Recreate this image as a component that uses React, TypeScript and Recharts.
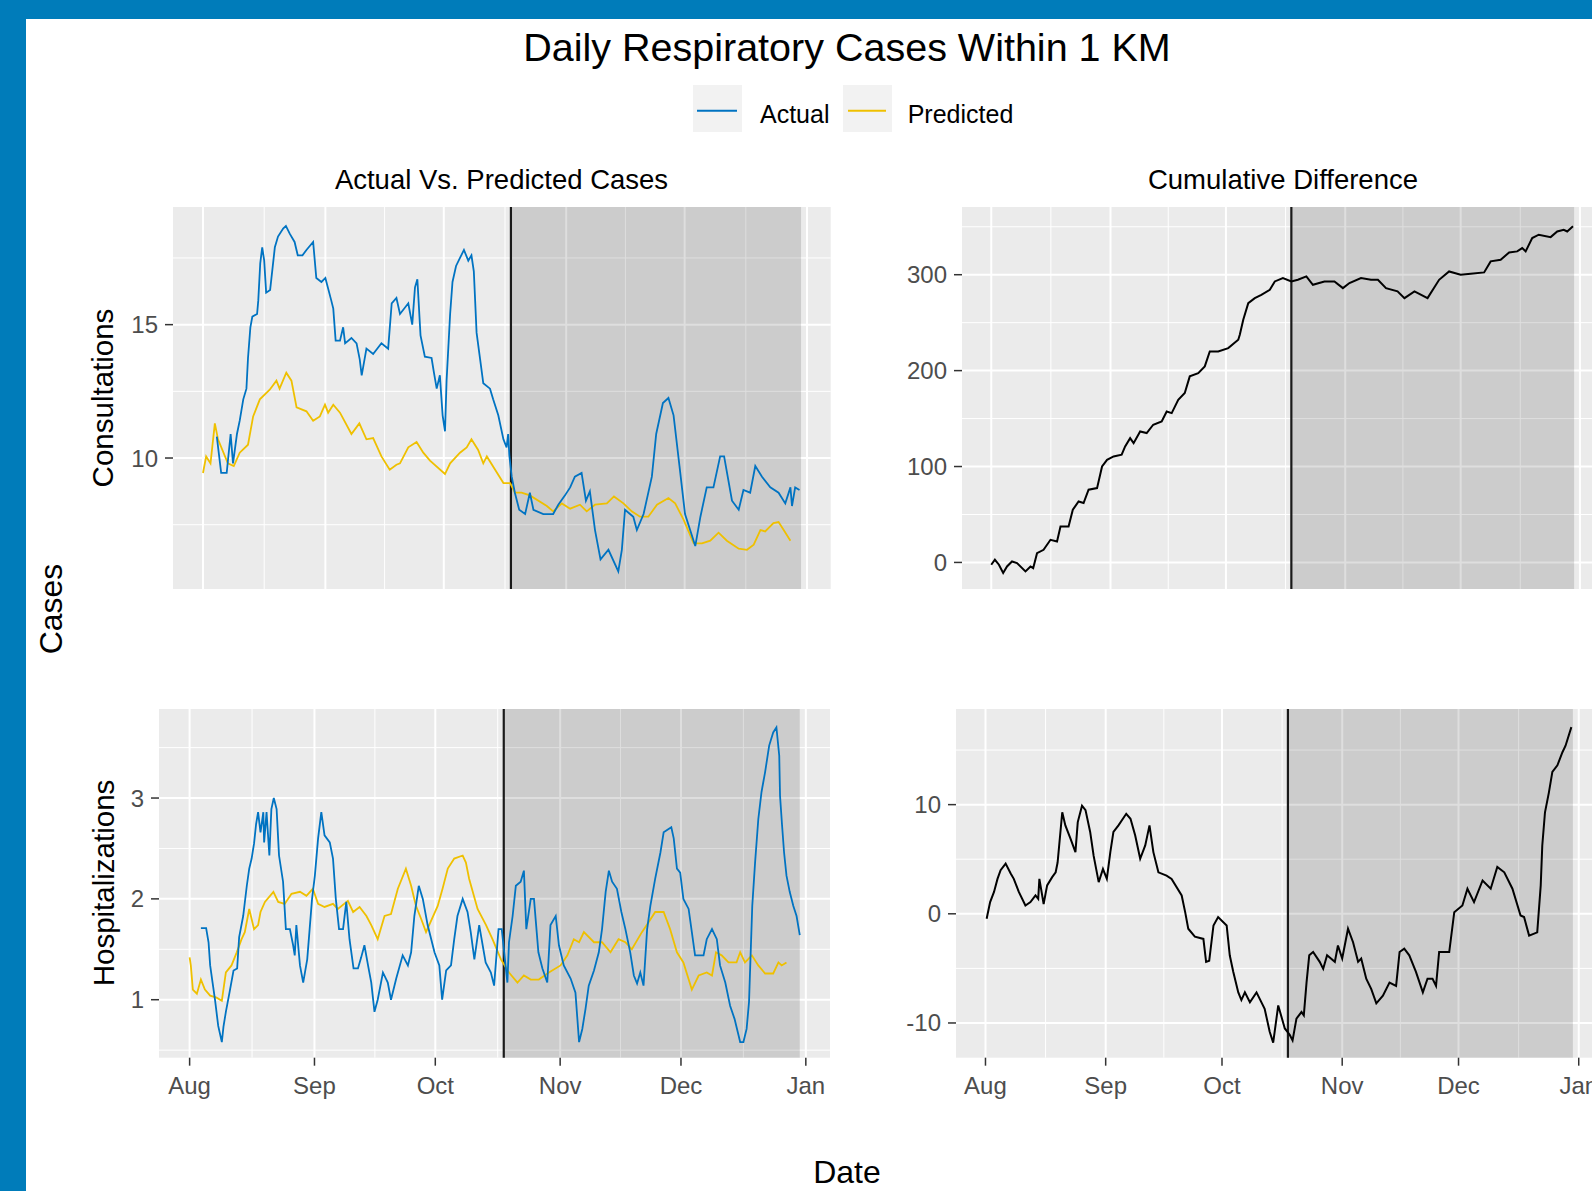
import React from 'react';
import { LineChart, Line, XAxis, YAxis, CartesianGrid, ReferenceLine, ReferenceArea } from 'recharts';

// x values are days counted from 1 Aug
const monthTicks = [0, 31, 61, 92, 122, 153];
const monthLabels = ['Aug', 'Sep', 'Oct', 'Nov', 'Dec', 'Jan'];
const minorDays = [15.5, 46, 76.5, 107, 137.5];
const splitDay = 78;
const lastDay = 151.5;

const consultTicks = [10, 15];
const consultMinor = [7.5, 12.5, 17.5];
const hospTicks = [1, 2, 3];
const hospMinor = [0.5, 1.5, 2.5, 3.5];
const cumConsultTicks = [0, 100, 200, 300];
const cumConsultMinor = [50, 150, 250, 350];
const cumHospTicks = [-10, 0, 10];
const cumHospMinor = [-5, 5, 15];

const consultActual: [number, number][] = [
  [3.5, 10.8], [4.6, 9.44], [6, 9.44], [7, 10.9], [7.6, 9.8], [8.6, 10.9], [9.3, 11.4], [10.2, 12.2],
  [11, 12.6], [11.4, 13.75], [12, 14.9], [12.5, 15.3], [13.7, 15.4], [14, 15.9], [14.5, 17.3], [15, 17.9],
  [15.5, 17.4], [16, 16.2], [17, 16.3], [17.3, 16.7], [18.2, 17.9], [19, 18.3], [20.3, 18.6], [21, 18.7],
  [22, 18.4], [23.2, 18.1], [24, 17.6], [25.2, 17.6], [26.2, 17.8], [27.9, 18.1], [28.7, 16.75], [30, 16.6],
  [31, 16.75], [32.5, 15.9], [33, 15.6], [33.6, 14.4], [34.7, 14.4], [35.5, 14.9], [36, 14.3], [37.6, 14.5],
  [38.9, 14.3], [39.7, 13.7], [40.2, 13.1], [41.4, 14.1], [43.1, 13.9], [45.2, 14.3], [46.9, 14.1], [47.8, 15.8],
  [49, 16], [49.9, 15.4], [52, 15.8], [53, 15], [53.7, 16.4], [54.3, 16.7], [55.1, 14.6], [56.2, 13.8],
  [57.9, 13.75], [58.5, 13.2], [59.2, 12.6], [60, 13.1], [60.7, 11.6], [61.3, 11.0], [61.7, 12.9], [62.6, 15.4],
  [63.2, 16.6], [64.1, 17.2], [65.1, 17.5], [66.1, 17.8], [67.2, 17.4], [68, 17.6], [68.6, 17], [69.3, 14.7],
  [70.2, 13.7], [71, 12.8], [72.7, 12.6], [73.5, 12.2], [74.8, 11.6], [76.1, 10.7], [76.9, 10.4], [77.3, 10.9],
  [77.6, 10.1], [78.2, 9.3], [79, 8.7], [80.1, 8.06], [81.6, 7.9], [82.8, 8.7], [83.7, 8.06], [86.2, 7.9],
  [88.7, 7.9], [90, 8.25], [91.7, 8.6], [93, 8.9], [94.2, 9.3], [95.9, 9.44], [97, 8.4], [98, 8.75],
  [99.3, 7.3], [100.7, 6.2], [102.7, 6.56], [105.2, 5.75], [106.1, 6.56], [106.9, 8.06], [109, 7.8], [109.9, 7.3],
  [111.6, 7.9], [113.7, 9.3], [114.8, 10.9], [116.5, 12.06], [117.9, 12.25], [119.2, 11.6], [120.7, 9.7], [122.1, 7.9],
  [124.7, 6.7], [126, 7.8], [127.6, 8.9], [129.3, 8.9], [131, 10.06], [132, 10.06], [134, 8.4], [135.7, 8.06],
  [136.9, 8.8], [138.6, 8.7], [139.9, 9.7], [141.6, 9.3], [143.7, 8.9], [145.8, 8.7], [147.5, 8.3], [148.8, 8.9],
  [149.2, 8.2], [150, 8.9], [151.1, 8.8],
];

const consultPredicted: [number, number][] = [
  [0, 9.44], [0.8, 10.06], [1.9, 9.8], [3, 11.3], [3.8, 10.7], [6.3, 9.8], [7.8, 9.7], [9.3, 10.2],
  [11.4, 10.5], [12.7, 11.56], [14.4, 12.2], [16.9, 12.56], [18.6, 12.9], [19.4, 12.6], [21.1, 13.2], [22.4, 12.9],
  [23.7, 11.9], [26.2, 11.75], [27.9, 11.4], [29.6, 11.56], [30.9, 12.0], [31.7, 11.7], [33, 12.0], [34.7, 11.7],
  [37.6, 10.9], [39.6, 11.3], [41.4, 10.7], [43.1, 10.75], [45.2, 10.06], [47.3, 9.56], [49, 9.75], [49.9, 9.8],
  [52, 10.4], [54.1, 10.6], [55.8, 10.2], [57.5, 9.9], [61.3, 9.4], [62.6, 9.8], [65.1, 10.2], [66.8, 10.4],
  [68, 10.7], [69.7, 10.3], [71, 9.8], [71.9, 10.06], [74, 9.56], [76.1, 9.06], [77.8, 9.06], [79, 8.7],
  [80.7, 8.7], [82.8, 8.6], [87.1, 8.2], [88.7, 8.0], [90.9, 8.3], [93, 8.1], [95.5, 8.25], [97.2, 8.0],
  [99.3, 8.25], [102.3, 8.3], [104.1, 8.56], [106.5, 8.3], [108.6, 8.0], [110.7, 7.8], [112.8, 7.8], [115, 8.25],
  [117.9, 8.5], [119.6, 8.3], [121.7, 7.7], [124.3, 6.8], [126.4, 6.8], [128.5, 6.9], [130.6, 7.2], [132.7, 6.9],
  [135.7, 6.6], [137.8, 6.56], [139.5, 6.75], [141.2, 7.3], [142.4, 7.25], [144.5, 7.56], [145.8, 7.6], [147.1, 7.3],
  [148.8, 6.9],
];

const hospActual: [number, number][] = [
  [2.8, 1.71], [4.1, 1.71], [4.7, 1.57], [5.1, 1.34], [5.7, 1.17], [6.3, 1.0], [7.1, 0.74], [8, 0.58],
  [8.4, 0.73], [9, 0.88], [9.9, 1.07], [10.9, 1.29], [11.8, 1.31], [12.3, 1.62], [13.3, 1.83], [14.2, 2.13],
  [14.8, 2.3], [15.4, 2.4], [16, 2.55], [16.5, 2.74], [17, 2.86], [17.6, 2.66], [18.3, 2.86], [18.5, 2.56],
  [19.1, 2.86], [19.8, 2.43], [20.3, 2.89], [20.9, 3.0], [21.6, 2.89], [22.2, 2.43], [23.2, 2.17], [23.9, 1.7],
  [24.9, 1.7], [25.7, 1.54], [26.1, 1.44], [26.5, 1.74], [27.4, 1.34], [28.2, 1.17], [29.2, 1.4], [29.8, 1.7],
  [30.4, 2.0], [31.1, 2.23], [31.9, 2.6], [32.7, 2.86], [33.5, 2.63], [34.8, 2.56], [35.6, 2.4], [36.3, 2.0],
  [37.1, 1.7], [38.1, 1.7], [38.9, 1.97], [39.7, 1.6], [40.7, 1.31], [41.8, 1.31], [42.6, 1.42], [43.4, 1.54],
  [44.3, 1.34], [45.1, 1.17], [45.9, 0.88], [46.7, 1.0], [48, 1.27], [49.2, 1.17], [50, 1.0], [51.3, 1.21],
  [52.9, 1.44], [54.2, 1.34], [55, 1.47], [55.8, 1.83], [56.9, 2.13], [57.9, 2.0], [59.1, 1.74], [60.8, 1.47],
  [62, 1.34], [62.7, 1.0], [63.7, 1.29], [64.9, 1.34], [65.7, 1.6], [66.5, 1.83], [67.8, 2.0], [69, 1.87],
  [69.8, 1.67], [70.7, 1.4], [71.9, 1.74], [73.5, 1.37], [74.8, 1.27], [75.6, 1.14], [76.7, 1.7], [77.5, 1.7],
  [78.9, 1.17], [79.3, 1.57], [80.2, 1.83], [81, 2.13], [82.2, 2.17], [83, 2.28], [83.6, 1.7], [84.7, 2.0],
  [85.5, 2.0], [86.6, 1.47], [87.6, 1.31], [88.8, 1.17], [89.6, 1.74], [90.9, 1.83], [91.7, 1.54], [92.9, 1.34],
  [94.6, 1.21], [95.8, 1.07], [96.7, 0.58], [97.5, 0.71], [98.3, 0.91], [99.1, 1.14], [100.4, 1.29], [101.6, 1.47],
  [102.4, 1.7], [103.3, 2.07], [104.1, 2.28], [104.9, 2.17], [106.1, 2.1], [107.2, 1.87], [108.2, 1.7], [109.4, 1.47],
  [110.3, 1.24], [111.1, 1.16], [111.9, 1.27], [112.7, 1.14], [113.6, 1.7], [114.4, 1.93], [115.6, 2.2], [116.9, 2.46],
  [117.7, 2.66], [119.6, 2.71], [120.2, 2.6], [121, 2.3], [121.8, 2.26], [122.6, 2.0], [123.9, 1.9], [124.7, 1.67],
  [125.5, 1.44], [127.6, 1.44], [128.4, 1.6], [129.7, 1.7], [130.9, 1.6], [131.7, 1.34], [133, 1.17], [134.2, 0.94],
  [135.3, 0.81], [136.7, 0.58], [137.5, 0.58], [138.3, 0.71], [138.9, 0.98], [139.7, 1.93], [140.4, 2.36], [141.2, 2.79],
  [142, 3.06], [142.9, 3.26], [143.9, 3.52], [144.9, 3.65], [145.7, 3.7], [146.4, 3.42], [146.6, 3.02], [147.1, 2.73],
  [147.6, 2.46], [148.2, 2.23], [149, 2.07], [149.9, 1.93], [150.7, 1.83], [151.5, 1.64],
];

const hospPredicted: [number, number][] = [
  [0, 1.42], [0.3, 1.34], [0.8, 1.1], [1.8, 1.06], [2.8, 1.2], [3.8, 1.1], [5.1, 1.04], [6.7, 1.02],
  [8, 0.99], [9, 1.27], [10.4, 1.34], [11.7, 1.47], [12.9, 1.6], [13.7, 1.67], [14.8, 1.9], [16, 1.7],
  [17, 1.74], [17.6, 1.87], [18.7, 1.97], [20.8, 2.07], [22, 1.97], [23.6, 1.95], [25.3, 2.05], [27.4, 2.07],
  [29, 2.03], [30.6, 2.1], [31.9, 1.95], [33.5, 1.92], [35.6, 1.95], [36.8, 1.9], [39.3, 1.98], [40.6, 1.87],
  [42.2, 1.92], [43.9, 1.83], [45.1, 1.74], [46.7, 1.6], [48.4, 1.83], [50, 1.85], [51.7, 2.1], [53.7, 2.3],
  [55, 2.13], [56.2, 1.93], [57.5, 1.8], [58.7, 1.67], [61.6, 1.93], [62.8, 2.1], [64.1, 2.3], [65.7, 2.4],
  [67.8, 2.43], [68.6, 2.36], [69.4, 2.2], [71.5, 1.9], [73.6, 1.74], [75.2, 1.6], [77.3, 1.4], [79.3, 1.27],
  [81.4, 1.17], [83, 1.24], [84.7, 1.2], [86.7, 1.2], [89.2, 1.27], [92.1, 1.34], [93.8, 1.44], [95.4, 1.6],
  [96.7, 1.57], [97.9, 1.67], [100.4, 1.57], [102.4, 1.57], [104.5, 1.47], [106.5, 1.6], [108.2, 1.57], [109.8, 1.5],
  [112.3, 1.67], [114, 1.77], [115.6, 1.87], [117.7, 1.87], [119.3, 1.7], [121, 1.47], [122.6, 1.37], [124.7, 1.1],
  [126.4, 1.24], [128.4, 1.27], [129.7, 1.24], [130.7, 1.47], [132.1, 1.44], [133.8, 1.37], [135.8, 1.37], [136.7, 1.47],
  [137.9, 1.37], [139.6, 1.44], [141.2, 1.34], [142.9, 1.26], [144.9, 1.26], [146.2, 1.37], [147, 1.34], [148.2, 1.37],
];

const consultCumDiff: [number, number][] = [
  [0, -2.4], [0.95, 2.8], [2, -2.4], [3.1, -11], [4.1, -4.2], [5.4, 1], [6.7, -0.7], [8.9, -9.4],
  [10.2, -4.2], [10.9, -6], [11.9, 9.7], [13.6, 13.2], [15.4, 23.6], [17.1, 21.9], [18, 37.5], [20.1, 37.5],
  [21.2, 54.9], [22.7, 63.6], [24, 61.9], [25.3, 75.8], [27.5, 77.5], [28.8, 100], [30.1, 107], [31.8, 110.5],
  [33.9, 112.3], [34.8, 121], [36.1, 129.6], [37, 124.4], [38.7, 136.6], [40.4, 134.9], [42.1, 143.6], [44.3, 147],
  [45.6, 157.4], [46.9, 155.7], [48.6, 169.6], [50.3, 176.6], [51.6, 194], [53.8, 197.4], [55.5, 204.4], [56.8, 220],
  [59, 220], [61.6, 223.5], [64.2, 232.2], [64.6, 237.4], [65.5, 253], [66.8, 270.4], [68.5, 275.6], [70.2, 279],
  [72.4, 284.3], [73.7, 293], [75.8, 296.5], [78, 293], [79.7, 294.7], [81.9, 298.2], [83.6, 289.5], [86.6, 293],
  [89.2, 293], [91.4, 286], [93.1, 291.3], [96.1, 296.5], [98.7, 294.7], [100.5, 294.7], [102.6, 286], [105.6, 282.6],
  [107.4, 275.6], [110, 282.6], [113.4, 275.6], [116.4, 294.7], [119, 303.4], [122, 300], [124.6, 301], [128.1, 302.4],
  [129.8, 313.9], [132.4, 315.6], [134.6, 323.2], [136.7, 324.3], [138, 327.8], [138.9, 324.3], [140.6, 338.2], [142.3, 341.7],
  [145.4, 339.2], [147.1, 345.1], [148.8, 346.9], [149.7, 345.1], [151.2, 350.4],
];

const hospCumDiff: [number, number][] = [
  [0.3, -0.46], [1.2, 1.07], [2.2, 2], [3.1, 3.2], [3.9, 4.0], [5.2, 4.6], [6.5, 3.7], [7.3, 3.2],
  [8.6, 2], [10.3, 0.76], [11.6, 1.07], [12.9, 1.68], [13.6, 1.37], [13.9, 3.2], [15, 0.9], [15.9, 2.6],
  [17.2, 3.36], [18.1, 3.8], [18.6, 4.7], [19.8, 9.3], [20.6, 8.1], [21.9, 6.9], [23.2, 5.65], [23.8, 8.4],
  [24.9, 9.9], [25.8, 9.5], [27, 7.5], [27.9, 5.3], [29.2, 2.9], [30.3, 4.1], [31.3, 3.2], [32.2, 5.65],
  [33, 7.5], [34.3, 8.1], [36.3, 9.16], [37.4, 8.7], [38.6, 7.2], [39.9, 5.04], [41.2, 6.26], [42.3, 8.1],
  [43.3, 5.65], [44.6, 3.8], [46.7, 3.5], [48, 3.2], [50.6, 1.68], [51.5, 0.15], [52.3, -1.37], [54, -2.1],
  [56.2, -2.3], [56.9, -4.4], [57.7, -4.3], [58.8, -1.07], [60, -0.3], [62.2, -1.07], [63, -3.8], [63.9, -5.3],
  [65.2, -7.2], [66, -7.9], [66.9, -7.2], [68.2, -8.1], [69.9, -7.2], [72, -8.7], [73.3, -10.8], [74.2, -11.8],
  [75.5, -8.4], [77.2, -10.5], [78.5, -11.1], [79.2, -11.6], [80.2, -9.6], [81.5, -9], [82.1, -9.3], [82.8, -6.3],
  [83.5, -3.8], [84.5, -3.5], [86.2, -4.4], [87.1, -5.04], [88.1, -3.8], [90.1, -4.4], [90.9, -2.9], [92, -4.1],
  [93.5, -1.37], [94.8, -2.6], [96.1, -4.4], [96.9, -4.1], [98.2, -5.95], [99.5, -6.9], [100.8, -8.2], [102.5, -7.5],
  [104.2, -6.3], [105.9, -6.6], [106.8, -3.5], [108, -3.2], [109.3, -3.8], [111, -5.3], [112.8, -7.2], [114, -5.95],
  [115.3, -5.95], [116.2, -6.6], [117, -3.5], [119.6, -3.5], [120.9, 0.15], [123, 0.76], [124.3, 2.3], [126, 1.07],
  [128.2, 3.05], [130.3, 2.3], [132, 4.3], [133.8, 3.8], [135.9, 2.3], [138, -0.15], [138.9, -0.3], [140.2, -2],
  [142.3, -1.7], [143.2, 2.6], [143.6, 6.26], [144.3, 9.3], [145.3, 11.1], [146.2, 13], [147.5, 13.6], [148.8, 14.8],
  [149.6, 15.4], [151.1, 17.1],
];

const ACTUAL = '#0073C2';
const PREDICTED = '#EFC000';
const FONT = '"Liberation Sans", Arial, sans-serif';
const X_DOMAIN: [number, number] = [-7.6, 159];

const toRows = (pts: [number, number][]) => pts.map(([day, value]) => ({ day, value }));

type Series = { name: string; points: [number, number][]; color: string; width: number };

interface PanelProps {
  left: number;
  top: number;
  plotWidth: number;
  plotHeight: number;
  axisWidth: number;
  yDomain: [number, number];
  yTicks: number[];
  yMinor: number[];
  series: Series[];
  showDates?: boolean;
}

function Panel({ left, top, plotWidth, plotHeight, axisWidth, yDomain, yTicks, yMinor, series, showDates }: PanelProps) {
  const axisHeight = showDates ? 60 : 0;
  return (
    <div style={{ position: 'absolute', left, top }}>
      <LineChart
        width={axisWidth + plotWidth}
        height={plotHeight + axisHeight}
        margin={{ top: 0, right: 0, bottom: 0, left: 0 }}
      >
        <CartesianGrid fill="#EBEBEB" stroke="none" />
        {minorDays.map(d => (
          <ReferenceLine key={`mx${d}`} x={d} stroke="#FFFFFF" strokeWidth={1} zIndex={-90} />
        ))}
        {yMinor.map(v => (
          <ReferenceLine key={`my${v}`} y={v} stroke="#FFFFFF" strokeWidth={1} zIndex={-90} />
        ))}
        {monthTicks.map(d => (
          <ReferenceLine key={`jx${d}`} x={d} stroke="#FFFFFF" strokeWidth={2} zIndex={-89} />
        ))}
        {yTicks.map(v => (
          <ReferenceLine key={`jy${v}`} y={v} stroke="#FFFFFF" strokeWidth={2} zIndex={-89} />
        ))}
        <ReferenceArea x1={splitDay} x2={lastDay} fill="#000000" fillOpacity={0.13} stroke="none" zIndex={-80} />
        <ReferenceLine x={splitDay} stroke="#1A1A1A" strokeWidth={2.2} zIndex={-70} />
        <XAxis
          type="number"
          dataKey="day"
          domain={X_DOMAIN}
          allowDataOverflow
          ticks={monthTicks}
          interval={0}
          tickFormatter={(v: number) => monthLabels[monthTicks.indexOf(v)] ?? ''}
          hide={!showDates}
          height={axisHeight}
          axisLine={false}
          tickSize={8}
          tickMargin={11}
          tickLine={{ stroke: '#333333', strokeWidth: 1.5 }}
          tick={{ fill: '#4D4D4D', fontSize: 24, fontFamily: FONT }}
        />
        <YAxis
          type="number"
          domain={yDomain}
          allowDataOverflow
          ticks={yTicks}
          interval={0}
          width={axisWidth}
          axisLine={false}
          tickSize={8}
          tickMargin={7}
          tickLine={{ stroke: '#333333', strokeWidth: 1.5 }}
          tick={{ fill: '#4D4D4D', fontSize: 24, fontFamily: FONT }}
        />
        {series.map(s => (
          <Line
            key={s.name}
            data={toRows(s.points)}
            dataKey="value"
            type="linear"
            stroke={s.color}
            strokeWidth={s.width}
            dot={false}
            activeDot={false}
            isAnimationActive={false}
          />
        ))}
      </LineChart>
    </div>
  );
}

export default function App() {
  return (
    <div
      style={{
        position: 'absolute',
        left: 0,
        top: 0,
        width: 1592,
        height: 1191,
        overflow: 'hidden',
        background: '#FFFFFF',
        fontFamily: FONT,
      }}
    >
      <Panel
        left={93.3}
        top={207.3}
        plotWidth={657.7}
        plotHeight={382}
        axisWidth={80}
        yDomain={[5.09, 19.41]}
        yTicks={consultTicks}
        yMinor={consultMinor}
        series={[
          { name: 'Predicted', points: consultPredicted, color: PREDICTED, width: 1.8 },
          { name: 'Actual', points: consultActual, color: ACTUAL, width: 1.8 },
        ]}
      />
      <Panel
        left={881.5}
        top={207.3}
        plotWidth={641}
        plotHeight={382}
        axisWidth={80}
        yDomain={[-27.7, 370.6]}
        yTicks={cumConsultTicks}
        yMinor={cumConsultMinor}
        series={[{ name: 'Cumulative', points: consultCumDiff, color: '#000000', width: 2 }]}
      />
      <Panel
        left={89}
        top={709.3}
        plotWidth={671}
        plotHeight={348.7}
        axisWidth={70}
        yDomain={[0.425, 3.883]}
        yTicks={hospTicks}
        yMinor={hospMinor}
        showDates
        series={[
          { name: 'Predicted', points: hospPredicted, color: PREDICTED, width: 1.8 },
          { name: 'Actual', points: hospActual, color: ACTUAL, width: 1.8 },
        ]}
      />
      <Panel
        left={885.5}
        top={709.3}
        plotWidth={646}
        plotHeight={348.7}
        axisWidth={70}
        yDomain={[-13.18, 18.76]}
        yTicks={cumHospTicks}
        yMinor={cumHospMinor}
        showDates
        series={[{ name: 'Cumulative', points: hospCumDiff, color: '#000000', width: 2 }]}
      />

      <svg
        width={1592}
        height={1191}
        style={{ position: 'absolute', left: 0, top: 0, pointerEvents: 'none' }}
        fontFamily={FONT}
      >
        <rect x={0} y={0} width={1592} height={19} fill="#007CBA" />
        <rect x={0} y={0} width={26} height={1191} fill="#007CBA" />

        <text x={847} y={61} textAnchor="middle" fontSize={39.5} fill="#000000">
          Daily Respiratory Cases Within 1 KM
        </text>

        <rect x={693} y={85} width={49} height={47} fill="#F2F2F2" />
        <line x1={697} x2={737} y1={110.7} y2={110.7} stroke={ACTUAL} strokeWidth={2} />
        <text x={760} y={122.7} fontSize={25} fill="#000000">Actual</text>
        <rect x={843} y={85} width={49} height={47} fill="#F2F2F2" />
        <line x1={848} x2={886} y1={110.7} y2={110.7} stroke={PREDICTED} strokeWidth={2} />
        <text x={907.7} y={122.7} fontSize={25} fill="#000000">Predicted</text>

        <text x={501.5} y={189} textAnchor="middle" fontSize={27.5} fill="#000000">
          Actual Vs. Predicted Cases
        </text>
        <text x={1283} y={189} textAnchor="middle" fontSize={27.5} fill="#000000">
          Cumulative Difference
        </text>

        <text transform="translate(113.3,398) rotate(-90)" textAnchor="middle" fontSize={29.5} fill="#000000">
          Consultations
        </text>
        <text transform="translate(113.5,883) rotate(-90)" textAnchor="middle" fontSize={29.5} fill="#000000">
          Hospitalizations
        </text>
        <text transform="translate(62,609) rotate(-90)" textAnchor="middle" fontSize={32} fill="#000000">
          Cases
        </text>
        <text x={847} y={1183} textAnchor="middle" fontSize={32} fill="#000000">
          Date
        </text>
      </svg>
    </div>
  );
}
